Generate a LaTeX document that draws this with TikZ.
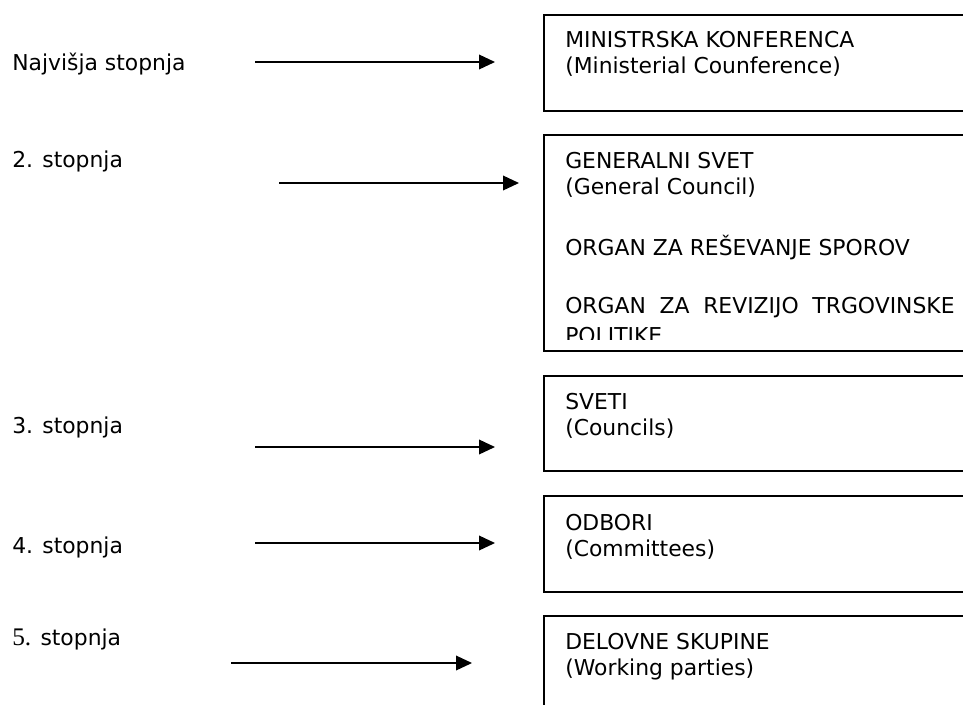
\documentclass[tikz,border=0pt]{standalone}
\usepackage{fontspec}
\setmainfont{DejaVu Sans}
\newfontfamily\numfont{Liberation Serif}
\usetikzlibrary{arrows.meta}

\begin{document}
\begin{tikzpicture}[
    x=0.75pt, y=-0.75pt,
    font=\fontsize{16.4pt}{19pt}\selectfont,
    lvl/.style={anchor=base west, inner sep=0pt},
    txt/.style={anchor=base west, inner sep=0pt},
    box/.style={
        draw, line width=1.2pt, anchor=north west,
        minimum width=345pt, inner sep=0pt
    },
    arr/.style={line width=1.1pt, -{Triangle[length=12pt,width=11pt]}}
]

    \clip (0,0) rectangle (963,704);

    \node [box, minimum height=72pt]   (B1) at (543,  14) {};
    \node [box, minimum height=162pt]  (B2) at (543, 134) {};
    \node [box, minimum height=71.5pt] (B3) at (543, 375) {};
    \node [box, minimum height=72pt]   (B4) at (543, 495) {};
    \node [box, minimum height=90pt]   (B5) at (543, 615) {};

    \node [txt] (T1a) at (565,  47) {MINISTRSKA KONFERENCA};
    \node [txt] (T1b) at (565,  73) {(Ministerial Counference)};
    \node [txt] (T2a) at (565, 168) {GENERALNI SVET};
    \node [txt] (T2b) at (565, 194) {(General Council)};
    \node [txt] (T2c) at (565, 255) {ORGAN ZA REŠEVANJE SPOROV};
    \node [txt] (T2d) at (565, 313) {\makebox[292pt][s]{ORGAN ZA REVIZIJO TRGOVINSKE}};
    \begin{scope}
        \clip (543, 134) rectangle (963, 339);
        \node [txt] (T2e) at (565, 343) {POLITIKE};
    \end{scope}
    \node [txt] (T3a) at (565, 409) {SVETI};
    \node [txt] (T3b) at (565, 435) {(Councils)};
    \node [txt] (T4a) at (565, 530) {ODBORI};
    \node [txt] (T4b) at (565, 556) {(Committees)};
    \node [txt] (T5a) at (565, 649) {DELOVNE SKUPINE};
    \node [txt] (T5b) at (565, 675) {(Working parties)};

    \node [lvl] (L1) at (12,  70) {Najvišja stopnja};
    \node [lvl] (L2) at (12, 167) {2. stopnja};
    \node [lvl] (L3) at (12, 433) {3. stopnja};
    \node [lvl] (L4) at (12, 553) {4. stopnja};
    \node [lvl] (L5) at (12, 645) {{\numfont\fontsize{19pt}{19pt}\selectfont 5.} stopnja};

    \coordinate (A1s) at (255,  62);  \coordinate (A1e) at (495,  62);
    \coordinate (A2s) at (279, 183);  \coordinate (A2e) at (519, 183);
    \coordinate (A3s) at (255, 447);  \coordinate (A3e) at (495, 447);
    \coordinate (A4s) at (255, 543);  \coordinate (A4e) at (495, 543);
    \coordinate (A5s) at (231, 663);  \coordinate (A5e) at (472, 663);

    \draw [arr] (A1s) -- (A1e);
    \draw [arr] (A2s) -- (A2e);
    \draw [arr] (A3s) -- (A3e);
    \draw [arr] (A4s) -- (A4e);
    \draw [arr] (A5s) -- (A5e);

\end{tikzpicture}
\end{document}
